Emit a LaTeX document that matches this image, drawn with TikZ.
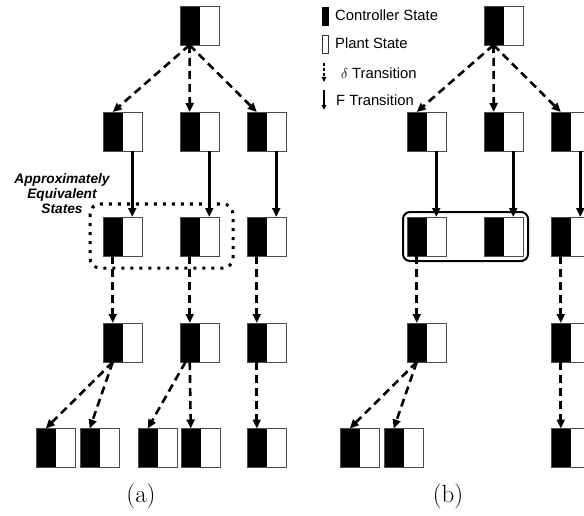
\documentclass[tikz,border=0pt]{standalone}
\usepackage{fontspec}
\newfontfamily\lsans{Liberation Sans}
\usetikzlibrary{arrows.meta,calc}
\begin{document}
\begin{tikzpicture}[x=1pt,y=-1pt,
  state/.style={minimum width=39pt,minimum height=39pt,inner sep=0pt,outer sep=0pt,
    draw=black!70,line width=0.9pt,
    path picture={\fill[black] (path picture bounding box.south west) rectangle (path picture bounding box.north);}},
  tip/.style={-{Triangle[length=9pt,width=8pt]}},
  dtrans/.style={tip,line width=2.6pt,dash pattern=on 8pt off 5pt},
  ftrans/.style={tip,line width=2.6pt},
  legtext/.style={anchor=base west,inner sep=0pt,font=\lsans\fontsize{14.8}{16}\selectfont},
  caption/.style={anchor=base,inner sep=0pt,font=\fontsize{25}{28}\selectfont},
  legbox/.style={minimum width=6pt,minimum height=18pt,inner sep=0pt,draw=black,line width=0.8pt}
]
\clip (0,0) rectangle (584,516);
\fill[white] (0,0) rectangle (584,516);

% ---------- panel (a) ----------
\node[state] (a1) at (199.5,25.5) {};
\node[state] (a21) at (122.5,131.5) {};
\node[state] (a22) at (199.5,131.5) {};
\node[state] (a23) at (266.5,131.5) {};
\node[state] (a31) at (122.5,236.5) {};
\node[state] (a32) at (199.5,236.5) {};
\node[state] (a33) at (266.5,236.5) {};
\node[state] (a41) at (122.5,342.5) {};
\node[state] (a42) at (199.5,342.5) {};
\node[state] (a43) at (266.5,342.5) {};
\node[state] (a51) at (55.5,448) {};
\node[state] (a52) at (99.5,448) {};
\node[state] (a53) at (157.5,448) {};
\node[state] (a54) at (200.5,448) {};
\node[state] (a55) at (266.5,448) {};

\foreach \t in {a21,a22,a23}
  \draw[dtrans] ([xshift=-10pt]a1.south) -- ([xshift=-9.75pt]\t.north);
\draw[ftrans] ([xshift=9.75pt]a21.south) -- ([xshift=9.75pt]a31.north);
\draw[ftrans] ([xshift=9.75pt]a22.south) -- ([xshift=9.75pt]a32.north);
\draw[ftrans] ([xshift=9.75pt]a23.south) -- ([xshift=9.75pt]a33.north);
\draw[dtrans] ([xshift=-9.75pt]a31.south) -- ([xshift=-9.75pt]a41.north);
\draw[dtrans] ([xshift=-9.75pt]a32.south) -- ([xshift=-9.75pt]a42.north);
\draw[dtrans] ([xshift=-9.75pt]a33.south) -- ([xshift=-9.75pt]a43.north);
\draw[dtrans] ([xshift=-9.75pt]a41.south) -- ([xshift=-9.75pt]a51.north);
\draw[dtrans] ([xshift=-9.75pt]a41.south) -- ([xshift=-9.75pt]a52.north);
\draw[dtrans] ([xshift=-14pt]a42.south) -- ([xshift=-9.75pt]a53.north);
\draw[dtrans] ([xshift=-9.75pt]a42.south) -- ([xshift=-9.75pt]a54.north);
\draw[dtrans] ([xshift=-9.75pt]a43.south) -- ([xshift=-9.75pt]a55.north);

\draw[line width=3pt,dash pattern=on 3pt off 6pt,rounded corners=10pt] (90,204) rectangle (233,268);
\node[align=center,anchor=base,inner sep=0pt,
  font=\lsans\bfseries\itshape\fontsize{13.7}{15}\selectfont] (lab) at (62,213)
  {Approximately\\Equivalent\\States};

\node[caption] (capa) at (141,502) {(a)};

% ---------- panel (b) ----------
\node[state] (b1) at (503.5,25.5) {};
\node[state] (b21) at (426.5,131.5) {};
\node[state] (b22) at (503.5,131.5) {};
\node[state] (b23) at (570.5,131.5) {};
\node[state] (b31) at (426.5,236.5) {};
\node[state] (b32) at (503.5,236.5) {};
\node[state] (b33) at (570.5,236.5) {};
\node[state] (b41) at (426.5,342.5) {};
\node[state] (b43) at (570.5,342.5) {};
\node[state] (b51) at (359.5,448) {};
\node[state] (b52) at (403.5,448) {};
\node[state] (b55) at (570.5,448) {};

\foreach \t in {b21,b22,b23}
  \draw[dtrans] ([xshift=-10pt]b1.south) -- ([xshift=-9.75pt]\t.north);
\draw[ftrans] ([xshift=9.75pt]b21.south) -- ([xshift=9.75pt]b31.north);
\draw[ftrans] ([xshift=9.75pt]b22.south) -- ([xshift=9.75pt]b32.north);
\draw[ftrans] ([xshift=9.75pt]b23.south) -- ([xshift=9.75pt]b33.north);
\draw[dtrans] ([xshift=-9.75pt]b31.south) -- ([xshift=-9.75pt]b41.north);
\draw[dtrans] ([xshift=-9.75pt]b33.south) -- ([xshift=-9.75pt]b43.north);
\draw[dtrans] ([xshift=-9.75pt]b41.south) -- ([xshift=-9.75pt]b51.north);
\draw[dtrans] ([xshift=-9.75pt]b41.south) -- ([xshift=-9.75pt]b52.north);
\draw[dtrans] ([xshift=-9.75pt]b43.south) -- ([xshift=-9.75pt]b55.north);

\draw[line width=2pt,rounded corners=7pt] (403,212) rectangle (528,261);

\node[caption] (capb) at (448,502) {(b)};

% ---------- legend ----------
\node[legbox,fill=black] (legc) at (325,16) {};
\node[legbox,fill=white,draw=black!80,line width=0.7pt] (legp) at (325,44) {};
\coordinate (ld1) at (324,63);
\coordinate (ld2) at (324,82);
\coordinate (lf1) at (324,90);
\coordinate (lf2) at (324,110);
\draw[line width=1.4pt,dash pattern=on 3pt off 2pt,-{Triangle[length=5pt,width=4.5pt]}] (ld1) -- (ld2);
\draw[line width=1.4pt,-{Triangle[length=5pt,width=4.5pt]}] (lf1) -- (lf2);
\node[legtext] (tc) at (335,21) {Controller State};
\node[legtext] (tp) at (335,49) {Plant State};
\node[legtext] (td) at (341,79) {$\delta$ Transition};
\node[legtext] (tf) at (336,106) {F Transition};
\end{tikzpicture}
\end{document}
